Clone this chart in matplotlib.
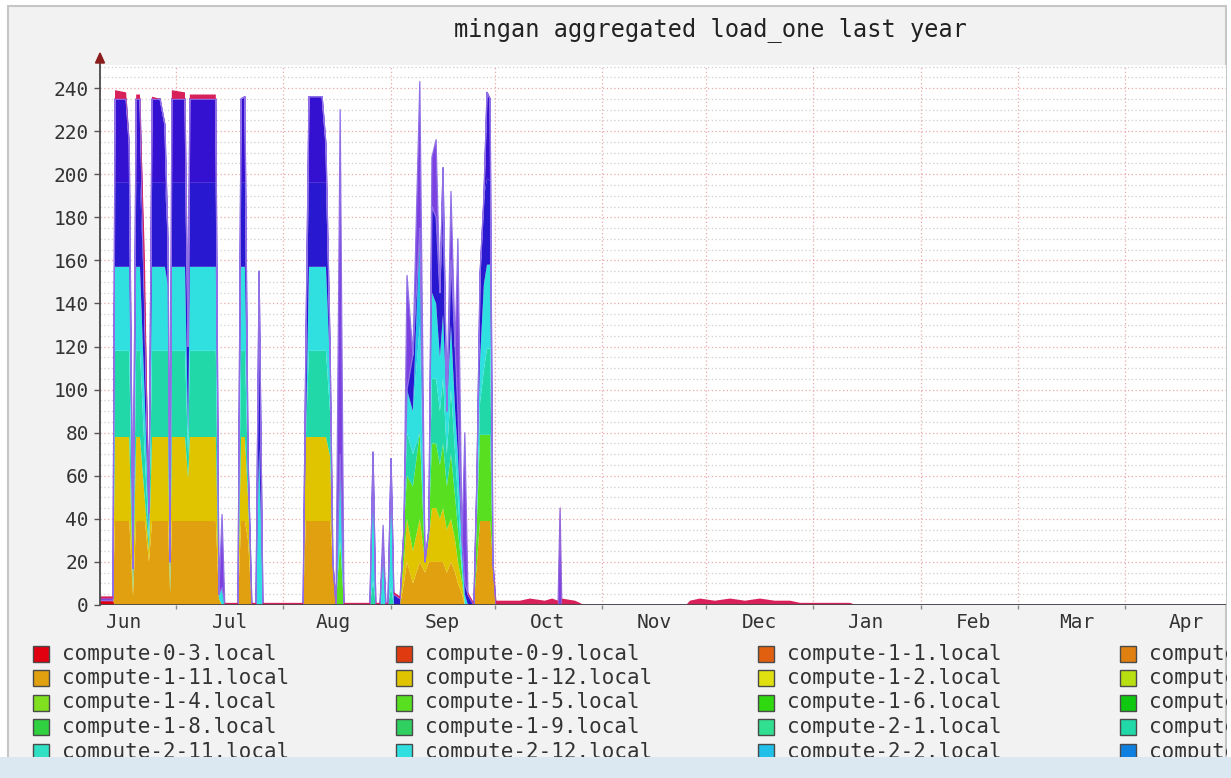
import numpy as np
import matplotlib
matplotlib.use("Agg")
import matplotlib.pyplot as plt
from matplotlib.patches import Rectangle, Polygon
from matplotlib.lines import Line2D

# ---------------- data ----------------
title = "mingan aggregated load_one last year"

hosts = ["compute-0-3.local", "compute-0-9.local", "compute-1-1.local", "compute-1-10.local",
         "compute-1-11.local", "compute-1-12.local", "compute-1-2.local", "compute-1-3.local",
         "compute-1-4.local", "compute-1-5.local", "compute-1-6.local", "compute-1-7.local",
         "compute-1-8.local", "compute-1-9.local", "compute-2-1.local", "compute-2-10.local",
         "compute-2-11.local", "compute-2-12.local", "compute-2-2.local", "compute-2-3.local",
         "compute-2-4.local", "compute-2-5.local", "compute-2-6.local", "compute-2-7.local",
         "compute-2-8.local", "compute-2-9.local"]
host_colors = ["#e00010", "#e03a10", "#e06010", "#e08010", "#e0a010", "#e0c400",
               "#e0e010", "#b8e010", "#80e020", "#58e020", "#30d810", "#10c810",
               "#30d040", "#30d060", "#30e090", "#20d8a8", "#30e0c4", "#30e0e0",
               "#20c0e8", "#1080e0", "#1050e0", "#2818d0", "#3410d0", "#7a40e0",
               "#b020d0", "#d8205a"]

month_labels = ["Jun", "Jul", "Aug", "Sep", "Oct", "Nov", "Dec", "Jan", "Feb", "Mar", "Apr"]
month_label_days = [15.0, 45.6, 75.4, 106.8, 137.4, 168.0, 198.3, 229.2, 260.1, 290.1, 321.6]
month_starts = [30, 61, 92, 122, 153, 183, 214, 245, 273, 304]   # days since Jun 1
y_ticks = [0, 20, 40, 60, 80, 100, 120, 140, 160, 180, 200, 220, 240]

# sample times (days since Jun 1)
days = [8.1, 11.8, 12.4, 15.6, 16.5, 17.6, 18.5, 19.6, 21.0, 22.2,
        23.1, 25.4, 26.8, 27.7, 28.3, 28.8, 32.6, 33.5, 34.0, 41.5,
        42.4, 43.3, 44.1, 47.9, 48.8, 49.9, 50.8, 51.9, 53.1, 54.0,
        55.1, 66.7, 67.5, 68.4, 72.2, 73.3, 74.5, 75.3, 76.2, 77.4,
        78.5, 86.0, 86.9, 87.7, 88.9, 89.8, 90.6, 91.2, 92.1, 92.9,
        94.7, 95.8, 96.7, 98.4, 100.4, 101.9, 103.0, 103.9, 105.1, 106.2,
        107.1, 108.2, 109.4, 110.6, 111.4, 112.6, 113.4, 114.3, 116.0, 116.9,
        117.8, 118.9, 119.8, 120.7, 121.5, 122.4, 129.3, 132.2, 136.5, 138.6,
        140.3, 140.9, 141.4, 145.2, 146.6, 147.8, 177.3, 178.4, 181.3, 185.6,
        190.0, 194.3, 198.6, 202.9, 207.3, 210.2, 224.6, 226.3, 373.0]

load_0_3 = [2, 2, 0, 0, 0, 0, 0, 0, 0, 0,
            0, 0, 0, 0, 0, 0, 0, 0, 0, 0,
            0, 0, 0, 0, 0, 0, 0, 0, 0, 0,
            0, 0, 0, 0, 0, 0, 0, 0, 0, 0,
            0, 0, 0, 0, 0, 0, 0, 0, 0, 0,
            0, 0, 0, 0, 0, 0, 0, 0, 0, 0,
            0, 0, 0, 0, 0, 0, 0, 0, 0, 0,
            0, 0, 0, 0, 0, 0, 0, 0, 0, 0,
            0, 0, 0, 0, 0, 0, 0, 0, 0, 0,
            0, 0, 0, 0, 0, 0, 0, 0, 0]
load_1_11 = [0, 0, 39, 39, 39, 4, 39, 39, 39, 20,
             39, 39, 39, 39, 5, 39, 39, 39, 39, 39,
             3, 0, 0, 0, 39, 39, 30, 0, 0, 0,
             0, 0, 39, 39, 39, 39, 39, 20, 0, 0,
             0, 0, 0, 0, 0, 0, 0, 0, 0, 0,
             0, 10, 20, 10, 20, 15, 20, 20, 20, 20,
             20, 15, 20, 15, 10, 5, 0, 0, 0, 20,
             39, 39, 39, 39, 20, 0, 0, 0, 0, 0,
             0, 0, 0, 0, 0, 0, 0, 0, 0, 0,
             0, 0, 0, 0, 0, 0, 0, 0, 0]
load_1_12 = [0, 0, 39, 39, 39, 2, 39, 39, 10, 5,
             39, 39, 39, 39, 0, 39, 39, 20, 39, 39,
             0, 0, 0, 0, 39, 39, 20, 0, 0, 0,
             0, 0, 39, 39, 39, 39, 30, 0, 0, 0,
             0, 0, 0, 0, 0, 0, 0, 0, 0, 0,
             0, 10, 20, 15, 20, 5, 10, 25, 25, 20,
             25, 20, 20, 15, 10, 5, 0, 0, 0, 0,
             0, 0, 0, 0, 0, 0, 0, 0, 0, 0,
             0, 0, 0, 0, 0, 0, 0, 0, 0, 0,
             0, 0, 0, 0, 0, 0, 0, 0, 0]
load_1_5 = [0, 0, 0, 0, 0, 0, 0, 0, 0, 0,
            0, 0, 0, 0, 0, 0, 0, 0, 0, 0,
            0, 0, 0, 0, 0, 0, 0, 0, 0, 0,
            0, 0, 0, 0, 0, 0, 0, 0, 0, 30,
            0, 0, 0, 0, 0, 0, 0, 0, 0, 0,
            0, 15, 20, 30, 40, 0, 5, 30, 30, 25,
            30, 20, 30, 20, 15, 5, 0, 0, 0, 20,
            40, 40, 40, 40, 0, 0, 0, 0, 0, 0,
            0, 0, 0, 0, 0, 0, 0, 0, 0, 0,
            0, 0, 0, 0, 0, 0, 0, 0, 0]
load_2_10 = [0, 0, 40, 40, 40, 3, 40, 40, 20, 5,
             40, 40, 40, 40, 5, 40, 40, 10, 40, 40,
             0, 0, 0, 0, 40, 40, 10, 0, 0, 0,
             0, 0, 0, 40, 40, 40, 20, 0, 0, 0,
             0, 0, 11, 0, 0, 0, 0, 0, 8, 0,
             0, 0, 20, 15, 0, 0, 0, 30, 30, 25,
             30, 15, 30, 20, 15, 0, 0, 0, 0, 0,
             15, 30, 40, 40, 0, 0, 0, 0, 0, 0,
             0, 0, 0, 0, 0, 0, 0, 0, 0, 0,
             0, 0, 0, 0, 0, 0, 0, 0, 0]
load_2_12 = [0, 0, 39, 39, 39, 3, 39, 39, 26, 5,
             39, 39, 39, 30, 5, 39, 39, 10, 39, 39,
             2, 8, 0, 0, 39, 39, 10, 0, 0, 73,
             0, 0, 0, 39, 39, 39, 20, 0, 0, 40,
             0, 0, 60, 0, 0, 25, 0, 0, 60, 0,
             0, 0, 20, 20, 50, 0, 0, 40, 35, 25,
             30, 20, 30, 20, 20, 10, 5, 0, 0, 20,
             20, 40, 39, 39, 0, 0, 0, 0, 0, 0,
             0, 0, 0, 0, 0, 0, 0, 0, 0, 0,
             0, 0, 0, 0, 0, 0, 0, 0, 0]
load_2_2 = [0, 0, 0, 0, 0, 0, 0, 0, 0, 0,
            0, 0, 0, 0, 0, 0, 0, 0, 0, 0,
            0, 0, 0, 0, 0, 0, 0, 0, 0, 0,
            0, 0, 0, 0, 0, 0, 0, 0, 0, 0,
            0, 0, 0, 0, 0, 0, 0, 0, 0, 0,
            0, 0, 0, 0, 45, 0, 0, 0, 0, 0,
            0, 0, 0, 0, 0, 0, 0, 0, 0, 0,
            0, 0, 0, 0, 0, 0, 0, 0, 0, 0,
            0, 0, 0, 0, 0, 0, 0, 0, 0, 0,
            0, 0, 0, 0, 0, 0, 0, 0, 0]
load_2_5 = [0, 0, 39, 39, 39, 5, 39, 39, 40, 8,
            39, 39, 39, 20, 5, 39, 39, 41, 39, 39,
            0, 0, 0, 0, 39, 39, 0, 0, 0, 82,
            0, 0, 42, 39, 39, 39, 10, 0, 0, 0,
            0, 0, 0, 0, 0, 0, 0, 0, 0, 5,
            3, 0, 0, 26, 0, 0, 0, 40, 40, 30,
            40, 0, 30, 30, 20, 5, 5, 5, 0, 0,
            40, 40, 40, 39, 0, 0, 0, 0, 0, 0,
            0, 0, 0, 0, 0, 0, 0, 0, 0, 0,
            0, 0, 0, 0, 0, 0, 0, 0, 0]
load_2_6 = [0, 0, 39, 39, 18, 0, 39, 39, 0, 0,
            39, 39, 27, 0, 0, 39, 39, 0, 39, 39,
            0, 0, 0, 0, 39, 40, 0, 0, 0, 0,
            0, 0, 0, 40, 40, 18, 0, 0, 0, 0,
            0, 0, 0, 0, 0, 0, 0, 0, 0, 0,
            0, 0, 0, 0, 0, 0, 0, 0, 0, 0,
            28, 0, 0, 0, 0, 0, 0, 0, 0, 0,
            0, 0, 40, 38, 0, 0, 0, 0, 0, 0,
            0, 0, 0, 0, 0, 0, 0, 0, 0, 0,
            0, 0, 0, 0, 0, 0, 0, 0, 0]
load_2_7 = [1, 1, 0, 0, 0, 0, 0, 0, 0, 0,
            0, 0, 0, 0, 0, 0, 0, 0, 0, 0,
            0, 34, 0, 0, 0, 0, 0, 0, 0, 0,
            0, 0, 0, 0, 0, 0, 0, 0, 0, 160,
            0, 0, 0, 0, 0, 12, 0, 0, 0, 0,
            0, 0, 53, 0, 68, 0, 0, 23, 36, 0,
            0, 0, 32, 0, 80, 0, 70, 0, 0, 0,
            0, 0, 0, 0, 0, 0, 0, 0, 0, 0,
            0, 45, 0, 0, 0, 0, 0, 0, 0, 0,
            0, 0, 0, 0, 0, 0, 0, 0, 0]
load_2_9 = [1, 1, 4, 3, 0, 0, 2, 2, 28, 1,
            1, 0, 0, 0, 0, 4, 3, 0, 2, 2,
            0, 0, 1, 1, 0, 0, 0, 1, 1, 0,
            1, 1, 0, 0, 0, 0, 0, 0, 1, 0,
            1, 1, 0, 1, 1, 0, 1, 1, 0, 1,
            1, 0, 0, 0, 0, 0, 0, 0, 0, 0,
            0, 0, 0, 0, 0, 0, 0, 1, 1, 0,
            0, 0, 0, 0, 0, 2, 2, 3, 2, 3,
            2, 2, 3, 2, 1, 0, 0, 2, 3, 2,
            3, 2, 3, 2, 2, 1, 1, 0, 0]

stack_hosts = ["compute-0-3.local", "compute-1-11.local", "compute-1-12.local", "compute-1-5.local",
               "compute-2-10.local", "compute-2-12.local", "compute-2-2.local", "compute-2-5.local",
               "compute-2-6.local", "compute-2-7.local", "compute-2-9.local"]
stack_values = [load_0_3, load_1_11, load_1_12, load_1_5, load_2_10, load_2_12,
                load_2_2, load_2_5, load_2_6, load_2_7, load_2_9]

# ---------------- layout ----------------
W, H = 1231, 778
fig = plt.figure(figsize=(W / 100, H / 100), dpi=100)
fig.patch.set_facecolor("white")


def fx(px):
    return px / W


def fy(py):
    return 1 - py / H


mono = "DejaVu Sans Mono"

# outer frame
fig.add_artist(Rectangle((fx(8), 0), fx(1226) - fx(8), fy(6), transform=fig.transFigure,
                         facecolor="#f2f2f2", edgecolor="#c6c6c6", lw=1.5, zorder=0))

px_per_day = 3.4635
x0 = 8.06
x1 = x0 + (1226 - 100) / px_per_day
ax = fig.add_axes([fx(100), fy(605), fx(1226) - fx(100), fy(65) - fy(605)])
ax.set_facecolor("white")
for s in ax.spines.values():
    s.set_visible(False)

# grid
for v in np.arange(0, 251, 5):
    if v % 20 == 0:
        ax.axhline(v, color="#eaa8a8", lw=0.9, ls=(0, (1, 2)), zorder=0.5)
    else:
        ax.axhline(v, color="#cfcfcf", lw=0.9, ls=(0, (1, 2)), zorder=0.4)
for m in month_starts:
    ax.axvline(m, color="#eaa8a8", lw=0.9, ls=(0, (1, 2)), zorder=0.5)

stack_colors = [host_colors[hosts.index(h)] for h in stack_hosts]
polys = ax.stackplot(days, *[np.array(v, float) for v in stack_values], colors=stack_colors,
                     linewidth=0, zorder=1)
# thin lavender outline of the stack top (as the antialiased spikes look in the original)
vi = stack_hosts.index("compute-2-7.local")
polys[vi].set_edgecolor("#9070e6")
polys[vi].set_linewidth(0.9)

ax.axhline(0, color="#4a4a4a", lw=1.3, zorder=3)

# ticks
ax.set_yticks(y_ticks)
ax.set_yticklabels([str(v) for v in y_ticks], fontfamily=mono, fontsize=14, color="#333333")
ax.tick_params(axis="y", length=4, width=1, color="#555555", pad=4)
ax.set_xticks(month_starts)
ax.set_xticklabels([])
ax.set_xticks(month_label_days, minor=True)
ax.set_xticklabels(month_labels, minor=True, fontfamily=mono, fontsize=14, color="#333333")
ax.tick_params(axis="x", which="major", length=3, width=1, color="#888888")
ax.tick_params(axis="x", which="minor", length=0, pad=6)
ax.set_xlim(x0, x1)
ax.set_ylim(0, 250.7)

# y axis line with arrow
fig.add_artist(Line2D([fx(100), fx(100)], [fy(605), fy(60)], transform=fig.transFigure,
                      color="#4a4a4a", lw=1.3, zorder=4))
fig.add_artist(Polygon([(fx(95.5), fy(63)), (fx(104.5), fy(63)), (fx(100), fy(53))], closed=True,
                       transform=fig.transFigure, facecolor="#8a1c1c", edgecolor="#8a1c1c", zorder=5))

# title
fig.text(fx(710), fy(30), title, ha="center", va="center", fontfamily=mono, fontsize=17,
         color="#222222")

# legend
col_left = [33, 396, 758, 1120]
row_top = 653.5
row_pitch = 24.5
for i, (name, col) in enumerate(zip(hosts, host_colors)):
    r, c = divmod(i, 4)
    cy = row_top + r * row_pitch
    fig.add_artist(Rectangle((fx(col_left[c]), fy(cy + 8)), fx(16), 16 / H, transform=fig.transFigure,
                             facecolor=col, edgecolor="#4a4a4a", lw=1.0, zorder=3))
    fig.text(fx(col_left[c] + 29), fy(cy), name, ha="left", va="center", fontfamily=mono,
             fontsize=15, color="#333333", zorder=3)

# crop: white beyond frame on right, light blue band at bottom
fig.add_artist(Rectangle((fx(1226.5), 0), 1, 1, transform=fig.transFigure,
                         facecolor="white", edgecolor="none", zorder=20))
fig.add_artist(Rectangle((0, 0), 1, fy(757), transform=fig.transFigure,
                         facecolor="#dce8f1", edgecolor="none", zorder=21))

fig.savefig("out.png", dpi=100)
